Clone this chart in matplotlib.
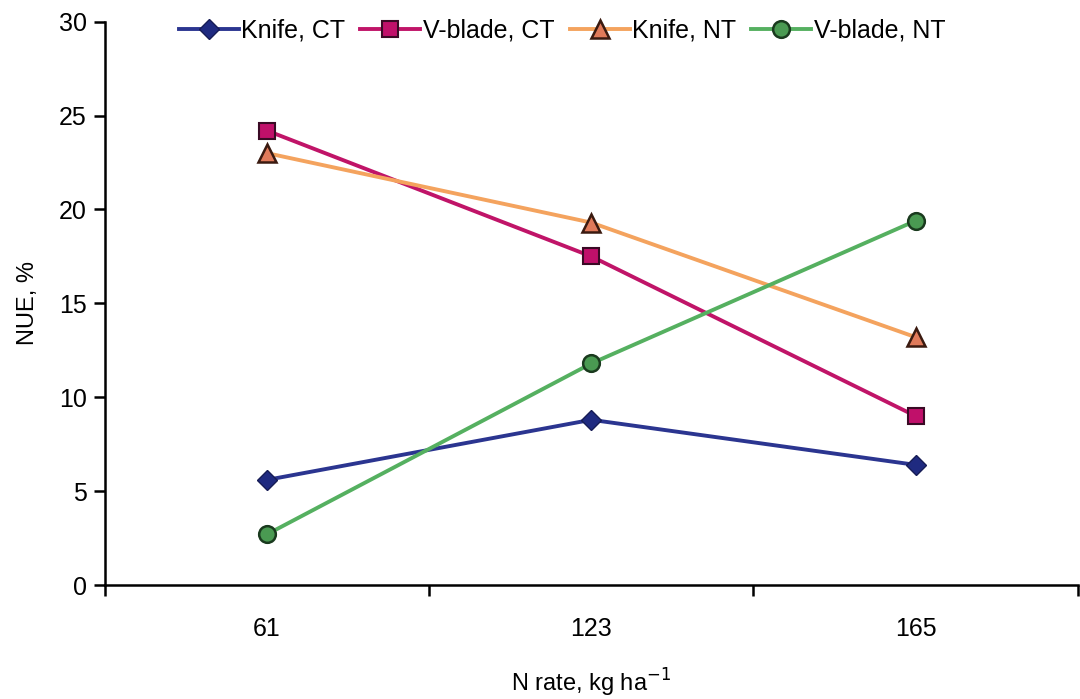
import matplotlib
matplotlib.use("Agg")
import matplotlib.pyplot as plt

plt.rcParams["font.family"] = ["Liberation Sans", "DejaVu Sans"]

# data
n_rates = ["61", "123", "165"]
knife_ct = [5.6, 8.8, 6.4]
vblade_ct = [24.2, 17.5, 9.0]
knife_nt = [23.0, 19.3, 13.2]
vblade_nt = [2.7, 11.8, 19.4]

x = list(range(len(n_rates)))

fig = plt.figure(figsize=(10.8, 6.99), dpi=100)
ax = fig.add_axes([0.097, 0.163, 0.901, 0.806])

ax.plot(x, knife_ct, color="#2b3590", lw=2.8, marker="D", ms=10,
        mfc="#1f2a80", mec="#161c55", label="Knife, CT")
ax.plot(x, vblade_ct, color="#c01468", lw=2.8, marker="s", ms=12,
        mfc="#c0106a", mec="#3a0a25", mew=1.5, label="V-blade, CT")
ax.plot(x, knife_nt, color="#f4a35e", lw=2.8, marker="^", ms=13,
        mfc="#e07a5a", mec="#3a1a10", mew=1.8, label="Knife, NT")
ax.plot(x, vblade_nt, color="#55b060", lw=2.8, marker="o", ms=12,
        mfc="#4a9a52", mec="#1a3a1e", mew=1.8, label="V-blade, NT")

ax.set_xlim(-0.5, len(n_rates) - 0.5)
ax.set_ylim(0, 30)
ax.set_yticks(range(0, 31, 5))
ax.set_xticks([i - 0.5 for i in range(len(n_rates) + 1)])
ax.set_xticklabels([])
ax.set_xticks(x, minor=True)
ax.set_xticklabels(n_rates, minor=True)
ax.tick_params(axis="x", which="minor", length=0, pad=23, labelsize=18)
ax.tick_params(axis="x", which="major", length=8, width=1.8, direction="out")
ax.tick_params(axis="y", length=8, width=1.8, labelsize=18, pad=5)

for s in ["top", "right"]:
    ax.spines[s].set_visible(False)
for s in ["left", "bottom"]:
    ax.spines[s].set_linewidth(1.8)

ax.set_ylabel("NUE, %", fontsize=17, labelpad=14)
ax.set_xlabel("N rate, kg ha$^{-1}$", fontsize=17)
ax.xaxis.set_label_coords(0.5, -0.145)

ax.legend(loc="upper center", bbox_to_anchor=(0.47, 1.045), ncol=4,
          frameon=False, fontsize=18, handlelength=2.4, handletextpad=0.1,
          columnspacing=0.6)

fig.savefig("out.png", dpi=100)
